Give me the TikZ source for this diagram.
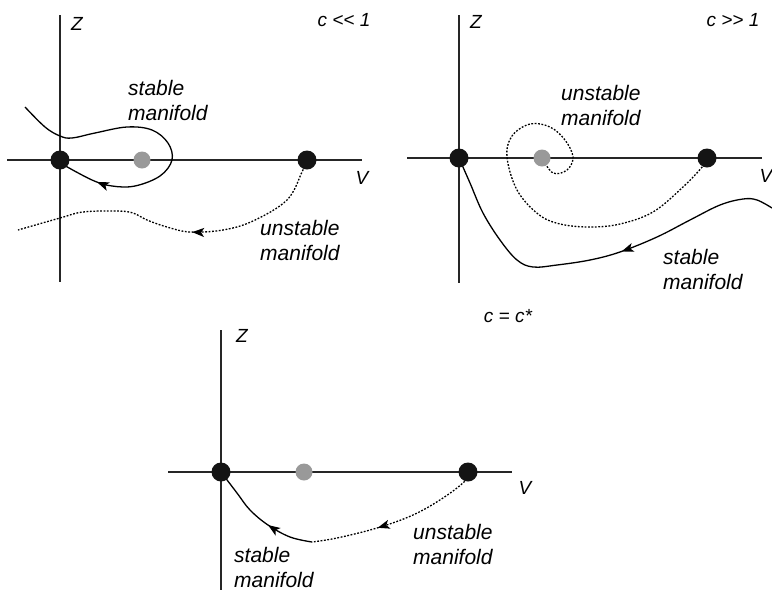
\documentclass[tikz,border=0pt]{standalone}
\usepackage{fontspec}
\setmainfont{Liberation Sans}
\usetikzlibrary{arrows.meta,decorations.markings}
\pgfdeclarelayer{bg}
\pgfsetlayers{bg,main}
\tikzset{
  axisline/.style={line width=1.3pt, black!85},
  stab/.style={line width=1.3pt, black},
  unstab/.style={line width=1.3pt, black, dash pattern=on 1.8pt off 1.6pt},
  bdot/.style={circle, fill=black!92, minimum size=19pt, inner sep=0pt},
  gdot/.style={circle, fill=black!40, minimum size=17pt, inner sep=0pt},
  lab/.style={font=\fontsize{21}{25}\selectfont\itshape, align=left, anchor=west, inner sep=0pt},
  axlab/.style={font=\fontsize{19}{22}\selectfont\itshape, inner sep=0pt},
  arrowat/.style={postaction={decorate}, decoration={markings, mark=at position #1 with {\arrow[solid]{Stealth[length=12pt,width=9pt,inset=3pt]}}}},
}
\begin{document}
\begin{tikzpicture}[x=1pt,y=1pt]
\useasboundingbox (0,0) rectangle (772,-590);
% ---------- panel 1: c << 1
\node[bdot] (a0) at (60,-160) {};
\node[gdot] (a1) at (142,-160) {};
\node[bdot] (a2) at (307,-160) {};
\coordinate (a0t) at (60,-15);
\coordinate (a0b) at (60,-282);
\coordinate (a0l) at (7,-160);
\coordinate (a0r) at (362,-160);
\begin{pgfonlayer}{bg}
\draw[axisline] (a0t) -- (a0b);
\draw[axisline] (a0l) -- (a0r);
\draw[stab, arrowat=0.87] plot[smooth, tension=0.6] coordinates {(25,-107) (45,-127) (60,-136) (72,-138) (95,-133) (127,-127) (152,-130) (168,-143) (172,-160) (160,-176) (135,-186) (112,-186) (92,-180) (62,-164)};
\draw[unstab, arrowat=0.45] plot[smooth, tension=0.6] coordinates {(a2.center) (302,-172) (287,-200) (253,-221) (223,-230) (190,-232) (167,-227) (147,-220) (133,-213) (117,-211) (83,-212) (60,-218) (18,-230)};
\end{pgfonlayer}
\node[axlab] (za) at (77,-24) {Z};
\node[axlab] (va) at (362,-178) {V};
\node[axlab] (ca) at (344,-20) {c <{}< 1};
\node[lab] (sa) at (128,-100) {stable\\manifold};
\node[lab] (ua) at (260,-240) {unstable\\manifold};
% ---------- panel 2: c >> 1
\node[bdot] (b0) at (459,-158) {};
\node[gdot] (b1) at (542,-158) {};
\node[bdot] (b2) at (707,-158) {};
\coordinate (b0t) at (459,-15);
\coordinate (b0b) at (459,-283);
\coordinate (b0l) at (407,-158);
\coordinate (b0r) at (762,-158);
\coordinate (bs) at (772,-208);
\begin{pgfonlayer}{bg}
\draw[axisline] (b0t) -- (b0b);
\draw[axisline] (b0l) -- (b0r);
\draw[unstab] plot[smooth, tension=0.6] coordinates {(b2.center) (703,-166) (683,-187) (653,-212) (620,-224) (590,-227) (560,-224) (538,-214) (517,-190) (507,-157) (512,-136) (530,-124) (550,-127) (565,-140) (573,-157) (567,-170) (553,-173) (b1.center)};
\draw[stab, arrowat=0.42] plot[smooth, tension=0.6] coordinates {(bs) (757,-200) (743,-199) (720,-205) (690,-220) (657,-237) (620,-252) (590,-260) (557,-265) (533,-267) (517,-260) (500,-240) (483,-213) (470,-183) (b0.center)};
\end{pgfonlayer}
\node[axlab] (zb) at (476,-22) {Z};
\node[axlab] (vb) at (766,-176) {V};
\node[axlab] (cb) at (733,-20) {c >{}> 1};
\node[lab] (ub) at (561,-105) {unstable\\manifold};
\node[lab] (sb) at (663,-269) {stable\\manifold};
% ---------- panel 3: c = c*
\node[bdot] (c0) at (221,-472) {};
\node[gdot] (c1) at (304,-472) {};
\node[bdot] (c2) at (468,-472) {};
\coordinate (c0t) at (221,-330);
\coordinate (c0b) at (221,-590);
\coordinate (c0l) at (168,-472);
\coordinate (c0r) at (512,-472);
\coordinate (cm) at (312,-542);
\begin{pgfonlayer}{bg}
\draw[axisline] (c0t) -- (c0b);
\draw[axisline] (c0l) -- (c0r);
\draw[stab, arrowat=0.40] plot[smooth, tension=0.6] coordinates {(cm) (290,-537) (268,-525) (250,-510) (237,-493) (c0.center)};
\draw[unstab, arrowat=0.62] plot[smooth, tension=0.6] coordinates {(c2.center) (465,-481) (443,-498) (413,-515) (377,-528) (337,-538) (cm)};
\end{pgfonlayer}
\node[axlab] (zc) at (242,-336) {Z};
\node[axlab] (vc) at (525,-488) {V};
\node[axlab] (cc) at (508,-316) {c = c*};
\node[lab] (sc) at (234,-567) {stable\\manifold};
\node[lab] (uc) at (413,-544) {unstable\\manifold};
\end{tikzpicture}
\end{document}
